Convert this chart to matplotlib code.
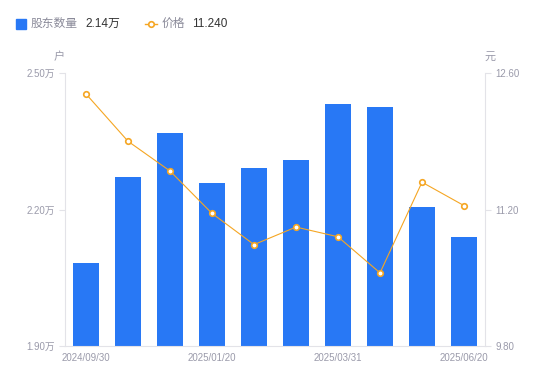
import matplotlib.pyplot as plt
from matplotlib.lines import Line2D

plt.rcParams['font.family'] = ['Liberation Sans', 'Noto Sans CJK SC', 'DejaVu Sans']

# data
dates = ['2024/09/30', '2024/10/31', '2024/12/10', '2025/01/20', '2025/02/10',
         '2025/02/28', '2025/03/31', '2025/04/30', '2025/05/20', '2025/06/20']
holders = [2.082, 2.271, 2.368, 2.258, 2.291, 2.309, 2.432, 2.425, 2.206, 2.140]  # 万户
price = [12.385, 11.90, 11.595, 11.16, 10.84, 11.02, 10.92, 10.55, 11.48, 11.24]
left_ticks = [1.90, 2.20, 2.50]
right_ticks = [9.80, 11.20, 12.60]

blue = '#2878f5'
orange = '#f5a623'
grey = '#9a9aaa'
axis_c = '#e3e3e8'

fig = plt.figure(figsize=(5.5, 3.81), dpi=100)
ax = fig.add_axes([65 / 550, 35 / 381, 420 / 550, 273 / 381])
x = list(range(len(dates)))

ax.bar(x, holders, width=0.6, color=blue, zorder=2)
ax.set_xlim(-0.5, len(dates) - 0.5)
ax.set_ylim(1.90, 2.50)
ax.set_yticks(left_ticks)
ax.set_yticklabels([f'{v:.2f}万' for v in left_ticks])

ax2 = ax.twinx()
ax2.plot(x, price, color=orange, lw=0.8, marker='o', ms=4, mfc='white',
         mec=orange, mew=1.2, zorder=3)
ax2.set_ylim(9.80, 12.60)
ax2.set_yticks(right_ticks)
ax2.set_yticklabels([f'{v:.2f}' for v in right_ticks])

ax.set_xticks(x[::3])
ax.set_xticklabels(dates[::3])

for a in (ax, ax2):
    for s in a.spines.values():
        s.set_visible(False)
    a.tick_params(colors=grey, labelsize=7, length=4, width=0.8)
    a.tick_params(axis='y', color=axis_c)
ax.tick_params(axis='x', length=0, pad=5)
ax.spines['left'].set_visible(True)
ax.spines['left'].set_color(axis_c)
ax.spines['bottom'].set_visible(True)
ax.spines['bottom'].set_color(axis_c)
ax2.spines['right'].set_visible(True)
ax2.spines['right'].set_color(axis_c)

# unit labels
fig.text(59 / 550, 1 - 57 / 381, '户', color=grey, fontsize=8, ha='center', va='center')
fig.text(490 / 550, 1 - 57 / 381, '元', color=grey, fontsize=8, ha='center', va='center')

# legend on top
fig.patches.append(plt.Rectangle((16 / 550, 1 - 29 / 381), 10 / 550, 10 / 381,
                                 transform=fig.transFigure, color=blue))
fig.text(31 / 550, 1 - 24 / 381, '股东数量', color='#8a8a99', fontsize=8.5, va='center')
fig.text(85 / 550, 1 - 24 / 381, f'{holders[-1]:.2f}万', color='#333333', fontsize=8.5, va='center')
fig.lines.append(Line2D([145 / 550, 157 / 550], [1 - 24 / 381] * 2, transform=fig.transFigure,
                        color=orange, lw=1))
fig.lines.append(Line2D([151 / 550], [1 - 24 / 381], transform=fig.transFigure,
                        color=orange, marker='o', ms=4, mfc='white', mew=1.2))
fig.text(162 / 550, 1 - 24 / 381, '价格', color='#8a8a99', fontsize=8.5, va='center')
fig.text(192 / 550, 1 - 24 / 381, f'{price[-1]:.3f}', color='#333333', fontsize=8.5, va='center')

fig.savefig('out.png', dpi=100)
